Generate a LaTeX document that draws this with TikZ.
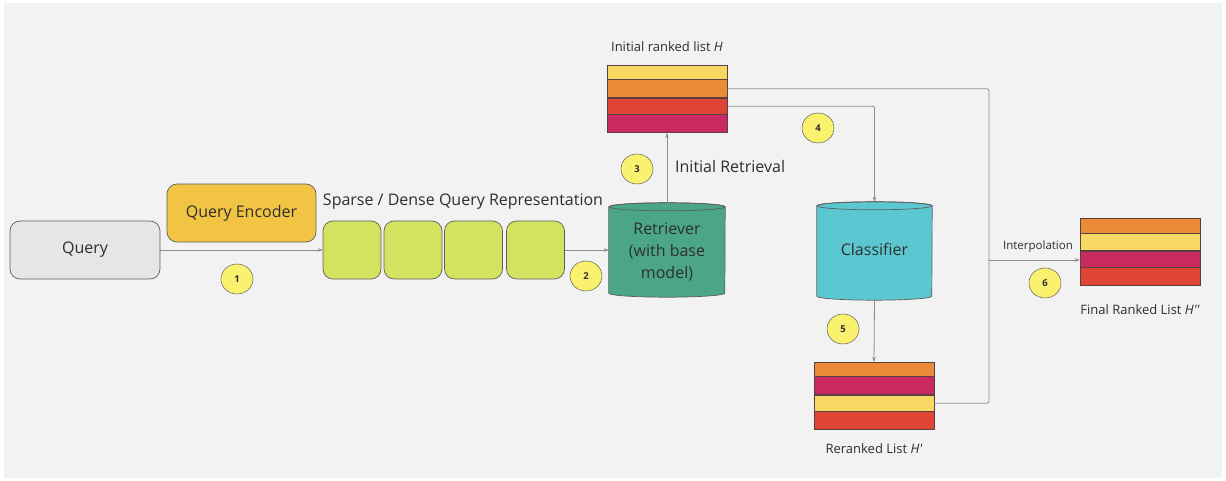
\documentclass[tikz,border=0pt]{standalone}
\usepackage{fontspec}
\setmainfont{Open Sans}
\usetikzlibrary{arrows.meta,calc}

\definecolor{canvas}{HTML}{F2F2F2}
\definecolor{querygray}{HTML}{E6E6E6}
\definecolor{encgold}{HTML}{F1C443}
\definecolor{reprgreen}{HTML}{D4E35F}
\definecolor{retgreen}{HTML}{4BA688}
\definecolor{clscyan}{HTML}{5BC8D1}
\definecolor{rowyellow}{HTML}{F7D863}
\definecolor{roworange}{HTML}{EB8B38}
\definecolor{rowred}{HTML}{E04435}
\definecolor{rowmagenta}{HTML}{C92A62}
\definecolor{badgeyellow}{HTML}{FAF16E}
\definecolor{inkgray}{HTML}{2E2E2E}
\definecolor{edgegray}{HTML}{5E5E5E}
\definecolor{rowedge}{HTML}{5A4040}
\definecolor{wiregray}{HTML}{8C8C8C}

\tikzset{
  x=1pt, y=1pt,
  every node/.style={text=inkgray},
  roundbox/.style={draw=edgegray, line width=0.7pt, rounded corners=10pt,
    minimum height=58pt, inner sep=0pt, font=\fontsize{16}{19}\selectfont},
  reprbox/.style={roundbox, fill=reprgreen, minimum width=58pt},
  listrow/.style={draw=rowedge, line width=0.5pt, minimum width=120pt,
    inner sep=0pt, anchor=north},
  badge/.style={ellipse, draw=edgegray, line width=0.5pt, fill=badgeyellow,
    minimum width=32pt, minimum height=30pt, inner sep=0pt,
    font=\fontsize{9.5}{10}\selectfont\bfseries},
  lbl/.style={font=\fontsize{13}{15}\selectfont, inner sep=0pt},
  biglbl/.style={font=\fontsize{16}{19}\selectfont, inner sep=0pt},
  wire/.style={draw=wiregray, line width=0.8pt, rounded corners=2pt,
    -{Stealth[length=5pt,width=3.6pt,fill=inkgray]}},
  plainwire/.style={draw=wiregray, line width=0.8pt, rounded corners=2pt},
  cylbody/.style={draw=edgegray, line width=0.7pt},
}
\usetikzlibrary{shapes.geometric}

\begin{document}
\begin{tikzpicture}
\useasboundingbox (0,0) rectangle (1226,481);
\fill[canvas] (4,3) rectangle (1222,478);

% input query and encoder
\node[roundbox, fill=querygray, minimum width=150pt] (query) at (85,231) {Query};
\node[roundbox, fill=encgold, minimum width=149pt] (encoder) at (241.5,268) {Query Encoder};

% query representation blocks
\node[biglbl] (reprlabel) at (463,279) {Sparse / Dense Query Representation};
\node[reprbox] (r1) at (352,231) {};
\node[reprbox] (r2) at (413,231) {};
\node[reprbox] (r3) at (473.5,231) {};
\node[reprbox] (r4) at (535.5,231) {};

% retriever cylinder
\node[minimum width=116pt, minimum height=86pt, inner sep=0pt] (ret) at (667,231) {};
\filldraw[cylbody, fill=retgreen]
  (ret.north west) -- (ret.south west)
  arc[start angle=180, end angle=360, x radius=58pt, y radius=4pt]
  -- (ret.north east)
  arc[start angle=0, end angle=180, x radius=58pt, y radius=4pt] -- cycle;
\draw[cylbody] (ret.north) ellipse[x radius=58pt, y radius=4pt];
\node[align=center, font=\fontsize{16}{22}\selectfont] (rettext) at (667,229)
  {Retriever\\(with base\\model)};
\coordinate (rettop) at ($(ret.north)+(0,4)$);

% classifier cylinder
\node[minimum width=115pt, minimum height=90pt, inner sep=0pt] (cls) at (874.5,230) {};
\filldraw[cylbody, fill=clscyan]
  (cls.north west) -- (cls.south west)
  arc[start angle=180, end angle=360, x radius=57.5pt, y radius=4pt]
  -- (cls.north east)
  arc[start angle=0, end angle=180, x radius=57.5pt, y radius=4pt] -- cycle;
\draw[cylbody] (cls.north) ellipse[x radius=57.5pt, y radius=4pt];
\node[font=\fontsize{16}{19}\selectfont] (clstext) at (874.5,232) {Classifier};
\coordinate (clstop) at ($(cls.north)+(0,4)$);
\coordinate (clsbot) at ($(cls.south)+(0,-4)$);

% initial ranked list H
\node[lbl] (hlabel) at (667,434) {Initial ranked list \textit{H}};
\node[listrow, fill=rowyellow,  minimum height=14pt] (h1) at (667,416) {};
\node[listrow, fill=roworange,  minimum height=18pt] (h2) at (h1.south) {};
\node[listrow, fill=rowred,     minimum height=16pt] (h3) at (h2.south) {};
\node[listrow, fill=rowmagenta, minimum height=18pt] (h4) at (h3.south) {};

% reranked list H'
\node[listrow, fill=roworange,  minimum height=14pt] (p1) at (874,119) {};
\node[listrow, fill=rowmagenta, minimum height=18pt] (p2) at (p1.south) {};
\node[listrow, fill=rowyellow,  minimum height=16pt] (p3) at (p2.south) {};
\node[listrow, fill=rowred,     minimum height=18pt] (p4) at (p3.south) {};
\node[lbl] (plabel) at (874,32) {Reranked List \textit{H\textquotesingle}};

% final ranked list H''
\node[listrow, fill=roworange,  minimum height=15pt] (f1) at (1140,263) {};
\node[listrow, fill=rowyellow,  minimum height=17pt] (f2) at (f1.south) {};
\node[listrow, fill=rowmagenta, minimum height=16pt] (f3) at (f2.south) {};
\node[listrow, fill=rowred,     minimum height=18pt] (f4) at (f3.south) {};
\node[lbl] (flabel) at (1140,171) {Final Ranked List \textit{H\textquotesingle\textquotesingle}};

% connectors
\draw[wire] (query.east) -- (r1.west);
\draw[wire] (r4.east) -- (ret.west);
\draw[wire] (rettop) -- (h4.south);
\node[biglbl, anchor=west] (retlabel) at (675,314) {Initial Retrieval};
\draw[wire] (h3.east) -| (clstop);
\draw[wire] (clsbot) -- (p1.north);
\coordinate (join) at (989,221);
\draw[plainwire] (h2.east) -| (join);
\draw[plainwire] (p3.east) -| (join);
\draw[wire] (join) -- (f3.west |- join);
\node[font=\fontsize{11.5}{13}\selectfont, inner sep=0pt] (interp) at (1038,234) {Interpolation};

% step badges
\node[badge] (b1) at (237,202) {1};
\node[badge] (b2) at (586,205) {2};
\node[badge] (b3) at (637,312) {3};
\node[badge] (b4) at (818,353) {4};
\node[badge] (b5) at (843,152) {5};
\node[badge] (b6) at (1045,198) {6};
\end{tikzpicture}
\end{document}
